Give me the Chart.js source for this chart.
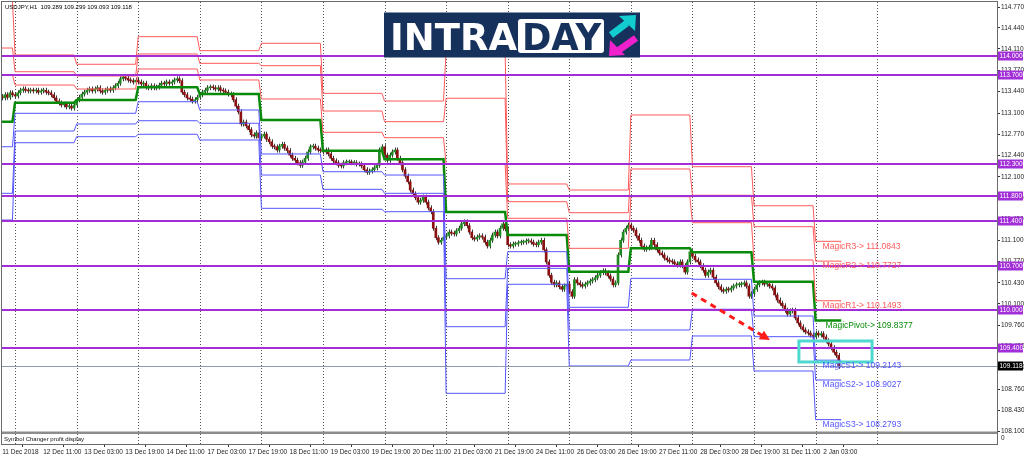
<!DOCTYPE html>
<html>
<head>
<meta charset="utf-8">
<script src="https://cdn.jsdelivr.net/npm/chart.js@4.4.1/dist/chart.umd.min.js"></script>
<style>
  html, body { margin: 0; padding: 0; background: #fff; }
  canvas { display: block; }
</style>
</head>
<body>
<canvas id="chart" width="1024" height="459"></canvas>
<script>
// --- data (USDJPY H1) ---
const symbolTitle = 'USDJPY,H1  109.289 109.299 109.093 109.118';
const subTitle = 'Symbol Changer profit display';

const timeLabels = ['11 Dec 2018', '12 Dec 11:00', '13 Dec 03:00', '13 Dec 19:00', '14 Dec 11:00',
  '17 Dec 03:00', '17 Dec 19:00', '18 Dec 11:00', '19 Dec 03:00', '19 Dec 19:00', '20 Dec 11:00',
  '21 Dec 03:00', '21 Dec 19:00', '24 Dec 11:00', '26 Dec 03:00', '26 Dec 19:00', '27 Dec 11:00',
  '28 Dec 03:00', '28 Dec 19:00', '31 Dec 11:00', '2 Jan 03:00'];
const timeLabelBars = [0, 16, 32, 48, 64, 80, 96, 112, 128, 144, 160, 176, 192, 208, 224, 240, 256, 272, 288, 304, 320];

// first bar of each trading day (day 0 = 11 Dec, partly visible)
const dayStartBars = [0, 5, 29, 53, 77, 101, 125, 149, 173, 197, 221, 245, 269, 293, 317];
const gridBars = [5, 29, 53, 77, 101, 125, 149, 173, 197, 221, 245, 269, 293, 317, 341];

const priceTicks = [108.100, 108.430, 108.760, 109.100, 109.430, 109.760, 110.100, 110.430, 110.770,
  111.100, 111.430, 111.770, 112.100, 112.440, 112.770, 113.100, 113.440, 113.770, 114.110, 114.440, 114.770];

const levels = [114.000, 113.700, 112.300, 111.800, 111.400, 110.700, 110.000, 109.400];
const lastPrice = 109.118;

const firstOpen = 113.36;
const closes = [
  113.34, 113.39, 113.35, 113.42, 113.39,
  113.37, 113.42, 113.46, 113.48, 113.46, 113.45, 113.46, 113.45, 113.46, 113.43, 113.45, 113.46,
  113.43, 113.42, 113.39, 113.34, 113.29, 113.26, 113.23, 113.24, 113.20, 113.21, 113.18, 113.23,
  113.31, 113.35, 113.40, 113.43, 113.46, 113.48, 113.45, 113.48, 113.50, 113.45, 113.43, 113.46,
  113.48, 113.46, 113.50, 113.53, 113.57, 113.64, 113.67, 113.65, 113.62, 113.61, 113.59, 113.62,
  113.59, 113.56, 113.57, 113.51, 113.50, 113.53, 113.50, 113.51, 113.54, 113.57, 113.56, 113.59,
  113.57, 113.59, 113.62, 113.64, 113.61, 113.43, 113.39, 113.34, 113.32, 113.29, 113.31, 113.35,
  113.39, 113.43, 113.46, 113.50, 113.51, 113.50, 113.48, 113.50, 113.46, 113.45, 113.43, 113.40,
  113.39, 113.31, 113.21, 113.12, 112.93, 112.96, 112.90, 112.84, 112.76, 112.74, 112.79, 112.71,
  112.74, 112.77, 112.69, 112.65, 112.58, 112.57, 112.52, 112.58, 112.61, 112.55, 112.51, 112.44,
  112.39, 112.36, 112.32, 112.28, 112.33, 112.39, 112.49, 112.57, 112.58, 112.55, 112.52, 112.51,
  112.49, 112.52, 112.46, 112.39, 112.35, 112.32, 112.28, 112.27, 112.32, 112.33, 112.33, 112.32,
  112.32, 112.30, 112.30, 112.27, 112.21, 112.17, 112.19, 112.21, 112.24, 112.28, 112.52, 112.57,
  112.44, 112.36, 112.44, 112.49, 112.52, 112.39, 112.32, 112.21, 112.11, 112.02, 111.89, 111.83,
  111.77, 111.70, 111.73, 111.78, 111.70, 111.61, 111.55, 111.29, 111.14, 111.07, 111.10, 111.15,
  111.17, 111.23, 111.21, 111.20, 111.25, 111.29, 111.36, 111.39, 111.33, 111.23, 111.14, 111.12,
  111.15, 111.17, 111.15, 111.07, 111.01, 111.10, 111.18, 111.23, 111.17, 111.29, 111.36, 111.28,
  111.03, 111.01, 111.04, 111.04, 111.06, 111.07, 111.07, 111.09, 111.09, 111.07, 111.04, 111.03,
  111.07, 111.10, 110.95, 110.76, 110.55, 110.44, 110.40, 110.43, 110.37, 110.33, 110.38, 110.41,
  110.29, 110.22, 110.48, 110.43, 110.40, 110.38, 110.41, 110.43, 110.46, 110.48, 110.51, 110.55,
  110.59, 110.62, 110.59, 110.54, 110.49, 110.40, 110.43, 110.87, 111.10, 111.23, 111.29, 111.34,
  111.29, 111.26, 111.17, 111.10, 111.01, 110.96, 110.98, 110.99, 111.10, 111.03, 110.95, 110.90,
  110.87, 110.82, 110.79, 110.77, 110.76, 110.73, 110.71, 110.76, 110.70, 110.60, 110.76, 110.92,
  110.85, 110.79, 110.76, 110.70, 110.63, 110.55, 110.60, 110.63, 110.52, 110.43, 110.37, 110.32,
  110.30, 110.33, 110.32, 110.35, 110.38, 110.40, 110.40, 110.41, 110.43, 110.38, 110.22, 110.26,
  110.33, 110.40, 110.43, 110.44, 110.41, 110.41, 110.38, 110.35, 110.24, 110.16, 110.11, 110.07,
  110.00, 109.94, 109.99, 110.00, 109.88, 109.80, 109.74, 109.69, 109.66, 109.64, 109.61, 109.58,
  109.64, 109.61, 109.63, 109.58, 109.52, 109.47, 109.41, 109.34, 109.289, 109.118
];

// daily "Magic" pivot levels, one value per day
const r3 = [114.86, 114.015, 113.869, 114.303, 114.083, 114.199, 113.412, 113.291, 114.089, 111.986, 111.891, 113.071, 112.258, 111.644, 111.0843];
const r2 = [114.125, 113.752, 113.685, 114.031, 113.884, 113.847, 113.134, 112.966, 113.334, 111.707, 111.534, 112.222, 111.808, 111.314, 110.7727];
const r1 = [113.70, 113.543, 113.48, 113.795, 113.622, 113.323, 112.799, 112.714, 112.30, 111.446, 110.974, 111.786, 111.377, 110.79, 110.1493];
const pivot = [112.966, 113.265, 113.307, 113.507, 113.401, 112.992, 112.509, 112.374, 111.545, 111.183, 110.606, 110.974, 110.911, 110.449, 109.8377];
const s1 = [112.572, 113.098, 113.098, 113.28, 113.15, 112.458, 112.179, 112.127, 110.496, 110.921, 110.046, 110.502, 110.487, 109.909, 109.2143];
const s2 = [111.839, 112.819, 112.93, 112.981, 112.941, 112.127, 111.902, 111.839, 109.741, 110.659, 109.689, 109.689, 110.015, 109.584, 108.9027];
const s3 = [111.419, 112.635, 112.73, 112.768, 112.678, 111.603, 111.588, 111.55, 108.693, 110.408, 109.123, 109.217, 109.595, 109.044, 108.2793];

// annotations (bar index, price)
const arrowFrom = [268.7, 110.27];
const arrowTo = [299.2, 109.53];
const focusBox = [310.5, 109.516, 339.0, 109.186];

// --- styling ---
const xMin = -0.08, xMax = 387.7;
const yMin = 107.8957, yMax = 114.8487;
const axisFont = '"Liberation Sans", Arial, sans-serif';
const resColor = 'rgb(255,90,90)';
const supColor = 'rgb(85,85,255)';
const pivColor = '#0a8a0a';
const levelColor = '#a22ed8';
const bullColor = '#1f8a1f';
const bearColor = '#8b1010';

const opens = closes.map((c, i) => i === 0 ? firstOpen : closes[i - 1]);
const lastBar = closes.length - 1;

function stepSeries(vals) {
  const pts = [];
  vals.forEach((v, d) => {
    const start = d === 0 ? xMin : dayStartBars[d];
    const end = d < vals.length - 1 ? dayStartBars[d + 1] - 1 : lastBar + 1;
    pts.push({ x: start, y: v }, { x: end, y: v });
  });
  return pts;
}

function lineSet(vals, color, width) {
  return {
    type: 'line', data: stepSeries(vals), borderColor: color, borderWidth: width,
    pointRadius: 0, tension: 0, order: 1
  };
}

function drawLogo(ctx) {
  ctx.save();
  ctx.fillStyle = '#16325c';
  ctx.fillRect(384, 12.5, 256, 45);
  ctx.font = 'bold 38px "DejaVu Sans", sans-serif';
  ctx.textBaseline = 'alphabetic';
  ctx.fillStyle = '#ffffff';
  ctx.fillText('INTRA', 390, 49.5, 127);
  ctx.beginPath();
  ctx.roundRect(518, 19, 86, 34, 3);
  ctx.fill();
  ctx.fillStyle = '#16325c';
  ctx.fillText('DAY', 522, 49.5, 79);
  // cyan arrow up-right
  ctx.strokeStyle = '#12ccd0'; ctx.fillStyle = '#12ccd0'; ctx.lineWidth = 7;
  ctx.beginPath(); ctx.moveTo(611, 35); ctx.lineTo(627, 23); ctx.stroke();
  ctx.beginPath(); ctx.moveTo(636, 15); ctx.lineTo(619, 16); ctx.lineTo(635, 31); ctx.closePath(); ctx.fill();
  // magenta arrow down-left
  ctx.strokeStyle = '#f020cc'; ctx.fillStyle = '#f020cc';
  ctx.beginPath(); ctx.moveTo(636, 38); ctx.lineTo(619, 50); ctx.stroke();
  ctx.beginPath(); ctx.moveTo(609, 56); ctx.lineTo(610, 40); ctx.lineTo(625, 55); ctx.closePath(); ctx.fill();
  ctx.restore();
}

const overlay = {
  id: 'overlay',
  beforeDatasetsDraw(chart) {
    const { ctx, chartArea: a, scales: { x, y } } = chart;
    ctx.save();
    // dotted day grid
    ctx.strokeStyle = '#555';
    ctx.lineWidth = 1;
    ctx.setLineDash([1, 2]);
    gridBars.forEach(b => {
      const px = Math.round(x.getPixelForValue(b)) + 0.5;
      ctx.beginPath(); ctx.moveTo(px, a.top); ctx.lineTo(px, a.bottom); ctx.stroke();
    });
    ctx.setLineDash([]);
    // sub window separator + caption
    ctx.fillStyle = '#8c8c8c';
    ctx.fillRect(a.left, a.bottom - 12.5, a.right - a.left, 2.5);
    ctx.fillStyle = '#111';
    ctx.font = '6px ' + axisFont;
    ctx.textBaseline = 'middle';
    ctx.fillText(subTitle, 4, a.bottom - 4.5);
    // wicks
    ctx.strokeStyle = '#3a3a3a';
    closes.forEach((c, i) => {
      const o = opens[i];
      const px = Math.round(x.getPixelForValue(i)) + 0.5;
      const top = y.getPixelForValue(Math.max(o, c)) - 2.5;
      const bot = y.getPixelForValue(Math.min(o, c)) + 2.5;
      ctx.beginPath(); ctx.moveTo(px, top); ctx.lineTo(px, bot); ctx.stroke();
    });
    ctx.restore();
  },
  afterDatasetsDraw(chart) {
    const { ctx, chartArea: a, scales: { x, y } } = chart;
    ctx.save();
    ctx.beginPath(); ctx.rect(a.left, a.top, a.right - a.left, a.bottom - a.top); ctx.clip();
    // horizontal levels
    ctx.strokeStyle = levelColor; ctx.lineWidth = 2;
    levels.forEach(v => {
      const py = Math.round(y.getPixelForValue(v));
      ctx.beginPath(); ctx.moveTo(a.left, py); ctx.lineTo(a.right, py); ctx.stroke();
    });
    // bid line
    ctx.strokeStyle = '#8c9bb0'; ctx.lineWidth = 1;
    const bp = Math.round(y.getPixelForValue(lastPrice)) + 0.5;
    ctx.beginPath(); ctx.moveTo(a.left, bp); ctx.lineTo(a.right, bp); ctx.stroke();
    // red dashed arrow
    const x0 = x.getPixelForValue(arrowFrom[0]), y0 = y.getPixelForValue(arrowFrom[1]);
    const x1 = x.getPixelForValue(arrowTo[0]), y1 = y.getPixelForValue(arrowTo[1]);
    const ang = Math.atan2(y1 - y0, x1 - x0);
    ctx.strokeStyle = '#ff1a1a'; ctx.fillStyle = '#ff1a1a'; ctx.lineWidth = 3;
    ctx.setLineDash([6, 5]);
    ctx.beginPath(); ctx.moveTo(x0, y0);
    ctx.lineTo(x1 - 6 * Math.cos(ang), y1 - 6 * Math.sin(ang)); ctx.stroke();
    ctx.setLineDash([]);
    ctx.beginPath();
    ctx.moveTo(x1, y1);
    ctx.lineTo(x1 - 10 * Math.cos(ang) + 5 * Math.sin(ang), y1 - 10 * Math.sin(ang) - 5 * Math.cos(ang));
    ctx.lineTo(x1 - 10 * Math.cos(ang) - 5 * Math.sin(ang), y1 - 10 * Math.sin(ang) + 5 * Math.cos(ang));
    ctx.closePath(); ctx.fill();
    // turquoise box
    const bx0 = x.getPixelForValue(focusBox[0]), by0 = y.getPixelForValue(focusBox[1]);
    const bx1 = x.getPixelForValue(focusBox[2]), by1 = y.getPixelForValue(focusBox[3]);
    ctx.strokeStyle = '#4fd8d0'; ctx.lineWidth = 3;
    ctx.strokeRect(bx0, by0, bx1 - bx0, by1 - by0);
    // level captions
    ctx.font = '8.5px "Liberation Sans", Arial, sans-serif';
    ctx.textBaseline = 'middle';
    const last = pivot.length - 1;
    const dayPx = x.getPixelForValue(dayStartBars[last]);
    [['MagicR3-> ', r3, resColor, 7], ['MagicR2-> ', r2, resColor, 7], ['MagicR1-> ', r1, resColor, 7],
     ['MagicPivot-> ', pivot, pivColor, 10],
     ['MagicS1-> ', s1, supColor, 7], ['MagicS2-> ', s2, supColor, 7], ['MagicS3-> ', s3, supColor, 7]]
      .forEach(([name, vals, color, dx]) => {
        ctx.fillStyle = color;
        ctx.fillText(name + vals[last].toFixed(4), dayPx + dx, y.getPixelForValue(vals[last]) + 5);
      });
    ctx.restore();
  },
  afterDraw(chart) {
    const { ctx, chartArea: a, scales: { y } } = chart;
    ctx.save();
    // frame
    ctx.strokeStyle = '#6a6a6a'; ctx.lineWidth = 1;
    ctx.strokeRect(a.left - 0.5, a.top - 0.5, a.right - a.left + 1, a.bottom - a.top + 1);
    // price tags on the axis
    ctx.font = '6.5px ' + axisFont;
    ctx.textBaseline = 'middle';
    levels.forEach(v => {
      const py = Math.round(y.getPixelForValue(v));
      ctx.fillStyle = levelColor; ctx.fillRect(a.right + 1, py - 4.5, 25, 9);
      ctx.fillStyle = '#fff'; ctx.fillText(v.toFixed(3), a.right + 2.5, py);
    });
    const bp = Math.round(y.getPixelForValue(lastPrice));
    ctx.fillStyle = '#000'; ctx.fillRect(a.right + 1, bp - 4.5, 25, 9);
    ctx.fillStyle = '#fff'; ctx.fillText(lastPrice.toFixed(3), a.right + 2.5, bp);
    ctx.fillStyle = '#222'; ctx.fillText('0', a.right + 4, a.bottom - 6);
    // title
    ctx.fillStyle = '#000';
    ctx.font = '6px ' + axisFont;
    ctx.fillText(symbolTitle, 5, 7);
    ctx.restore();
    drawLogo(ctx);
  }
};

new Chart(document.getElementById('chart'), {
  type: 'bar',
  data: {
    datasets: [
      lineSet(r3, resColor, 1), lineSet(r2, resColor, 1), lineSet(r1, resColor, 1),
      lineSet(s1, supColor, 1), lineSet(s2, supColor, 1), lineSet(s3, supColor, 1),
      lineSet(pivot, pivColor, 2.5),
      {
        type: 'bar',
        data: closes.map((c, i) => ({ x: i, y: [opens[i], c] })),
        backgroundColor: closes.map((c, i) => c >= opens[i] ? bullColor : bearColor),
        barThickness: 2, minBarLength: 1, borderWidth: 0, order: 10
      }
    ]
  },
  options: {
    responsive: false,
    devicePixelRatio: 1,
    animation: false,
    layout: { padding: { left: 2, top: 2, right: 0, bottom: 0 } },
    plugins: { legend: { display: false }, tooltip: { enabled: false } },
    scales: {
      x: {
        type: 'linear', min: xMin, max: xMax, offset: false,
        afterBuildTicks: s => { s.ticks = timeLabelBars.map(v => ({ value: v })); },
        afterFit: s => { s.height = 15; s.paddingLeft = 0; s.paddingRight = 0; },
        ticks: {
          align: 'start', autoSkip: false, maxRotation: 0, minRotation: 0, padding: 1,
          color: '#222', font: { size: 6.5, family: axisFont },
          callback: (v, i) => timeLabels[i]
        },
        grid: { drawOnChartArea: false, tickLength: 3, color: '#333' },
        border: { display: false }
      },
      y: {
        type: 'linear', position: 'right', min: yMin, max: yMax,
        afterBuildTicks: s => { s.ticks = priceTicks.map(v => ({ value: v })); },
        afterFit: s => { s.width = 27; s.paddingTop = 0; s.paddingBottom = 0; },
        ticks: {
          autoSkip: false, padding: 1, color: '#222', font: { size: 6.5, family: axisFont },
          callback: v => v.toFixed(3)
        },
        grid: { drawOnChartArea: false, tickLength: 3, color: '#333' },
        border: { display: false }
      }
    }
  },
  plugins: [overlay]
});
</script>
</body>
</html>
